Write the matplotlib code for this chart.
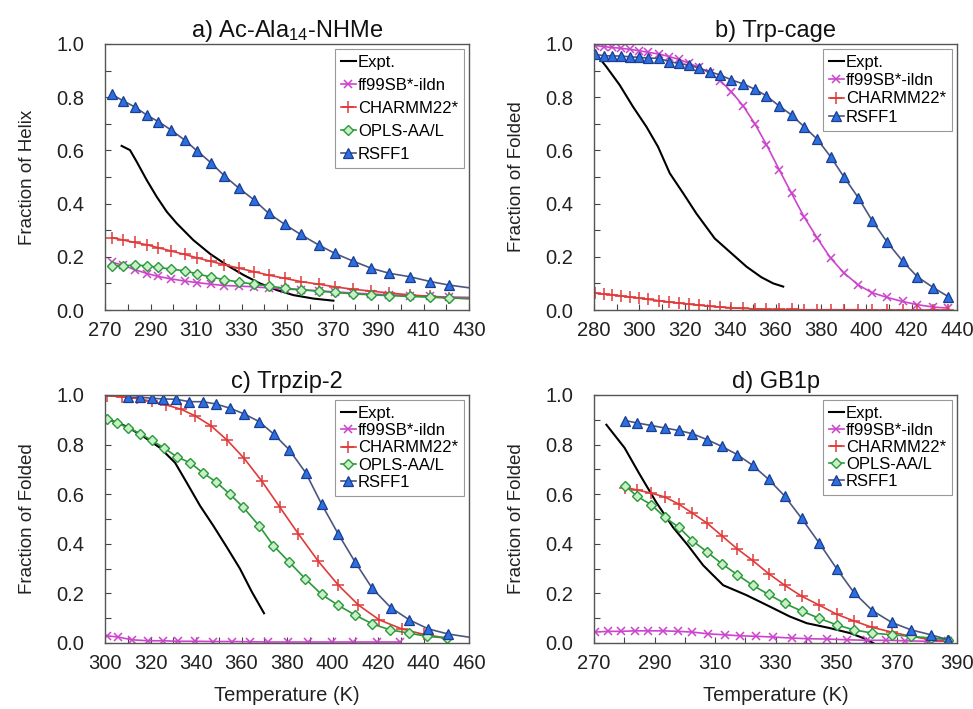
import matplotlib
matplotlib.use("Agg")
import numpy as np
import matplotlib.pyplot as plt
from matplotlib.ticker import MultipleLocator

plt.rcParams["font.family"] = ["Liberation Sans", "DejaVu Sans"]
plt.rcParams["mathtext.fontset"] = "custom"
plt.rcParams["mathtext.rm"] = "Liberation Sans"
plt.rcParams["mathtext.it"] = "Liberation Sans:italic"

# ---------------- a) Ac-Ala14-NHMe : helix fraction ----------------
temps_a = [273, 278, 283, 288.5, 293.5, 299, 305, 310.5, 316.5, 322.5, 329, 335.5,
           342, 349, 356, 364, 371, 379, 387, 395, 404, 413, 421, 433]
ff99_a = [0.180, 0.168, 0.152, 0.137, 0.126, 0.117, 0.109, 0.103, 0.097, 0.092, 0.090, 0.087,
          0.083, 0.079, 0.076, 0.072, 0.068, 0.064, 0.060, 0.057, 0.054, 0.051, 0.049, 0.047]
charmm_a = [0.272, 0.263, 0.254, 0.245, 0.234, 0.222, 0.209, 0.196, 0.183, 0.170, 0.157, 0.144,
            0.131, 0.119, 0.107, 0.097, 0.087, 0.078, 0.071, 0.064, 0.057, 0.051, 0.046, 0.041]
opls_a = [0.166, 0.166, 0.169, 0.166, 0.160, 0.154, 0.147, 0.136, 0.124, 0.114, 0.105, 0.097,
          0.090, 0.082, 0.076, 0.071, 0.066, 0.061, 0.057, 0.054, 0.051, 0.048, 0.045, 0.043]
rsff1_a = [0.811, 0.786, 0.764, 0.732, 0.708, 0.677, 0.639, 0.598, 0.554, 0.504, 0.457, 0.414,
           0.363, 0.322, 0.284, 0.244, 0.213, 0.184, 0.157, 0.138, 0.125, 0.107, 0.094, 0.080]
expt_a_t = [277.3, 281, 283.9, 288.3, 292.7, 297.1, 301.5, 308.8, 316.2, 323.5, 330.8, 338.1,
            345.5, 352.8, 361.6, 370.4]
expt_a = [0.617, 0.601, 0.558, 0.489, 0.426, 0.370, 0.326, 0.263, 0.211, 0.169, 0.132, 0.100,
          0.075, 0.056, 0.043, 0.035]

# ---------------- b) Trp-cage ----------------
temps_b = [280.6, 284.3, 288.1, 291.8, 295.7, 299.7, 303.8, 308.7, 313.1, 317.4, 321.8, 326.3,
           331, 335.7, 340.6, 345.7, 350.9, 356, 361.6, 367.1, 372.6, 378.4, 384.3, 390.1,
           396.5, 402.6, 409.3, 416, 422.5, 429.6, 436.2]
ff99_b = [0.994, 0.990, 0.987, 0.984, 0.980, 0.975, 0.969, 0.962, 0.953, 0.942, 0.928, 0.912,
          0.890, 0.862, 0.820, 0.768, 0.700, 0.622, 0.528, 0.438, 0.350, 0.270, 0.195, 0.140,
          0.094, 0.065, 0.047, 0.032, 0.020, 0.011, 0.007]
charmm_b = [0.063, 0.060, 0.057, 0.053, 0.049, 0.045, 0.040, 0.035, 0.030, 0.026, 0.022, 0.018,
            0.014, 0.011, 0.008, 0.006, 0.004, 0.003, 0.002, 0.002, 0.001, 0.001, 0.001, 0.001,
            0.001, 0.0, 0.0, 0.0, 0.0, 0.0, 0.0]
rsff1_b = [0.961, 0.956, 0.955, 0.955, 0.952, 0.950, 0.947, 0.946, 0.934, 0.927, 0.921, 0.909,
           0.896, 0.883, 0.865, 0.850, 0.830, 0.805, 0.767, 0.733, 0.689, 0.642, 0.576, 0.501,
           0.422, 0.336, 0.254, 0.184, 0.125, 0.084, 0.050]
expt_b_t = [280, 285.4, 291.3, 297.2, 303.1, 308.2, 313.4, 319.3, 325.1, 333.2, 339.8, 347.2,
            353.8, 359, 363.4]
expt_b = [0.972, 0.915, 0.846, 0.764, 0.689, 0.614, 0.514, 0.439, 0.363, 0.269, 0.219, 0.163,
          0.123, 0.100, 0.088]

# ---------------- c) Trpzip-2 ----------------
ff99_c_t = [300.7, 305.9, 311.7, 319, 325.6, 332.2, 339.6, 347.6, 355.7, 363.7, 371.8, 380.6,
            389.4, 399.6, 409.2, 419.4, 429.7]
ff99_c = [0.029, 0.024, 0.013, 0.009, 0.009, 0.007, 0.007, 0.006, 0.006, 0.005, 0.004, 0.004,
          0.004, 0.004, 0.004, 0.004, 0.004]
charmm_c_t = [300.7, 307.3, 313.9, 320.5, 326.8, 333.3, 339.6, 346.6, 353.8, 361.2, 368.9, 376.9,
              385, 393.8, 402.6, 411.4, 420.6, 430.4, 440, 450.2]
charmm_c = [0.997, 0.993, 0.986, 0.975, 0.960, 0.943, 0.916, 0.876, 0.817, 0.744, 0.653, 0.547,
            0.440, 0.329, 0.233, 0.153, 0.093, 0.057, 0.035, 0.020]
opls_c_t = [300.7, 305.1, 310.3, 315.4, 320.5, 325.9, 331.5, 337.4, 342.9, 348.6, 354.9, 360.8,
            367.7, 374, 380.9, 387.9, 395.2, 402.3, 409.9, 417.5, 425.3, 433.6, 441.4, 450.2]
opls_c = [0.904, 0.889, 0.867, 0.844, 0.817, 0.787, 0.751, 0.727, 0.687, 0.651, 0.600, 0.547,
          0.473, 0.393, 0.327, 0.260, 0.196, 0.153, 0.113, 0.077, 0.053, 0.040, 0.027, 0.020]
rsff1_c_t = [310.3, 315.4, 320.5, 325.6, 331.2, 337.1, 342.9, 348.6, 354.9, 361.1, 367.7, 374.1,
             380.9, 388.2, 395.2, 402.5, 409.9, 417.5, 425.6, 433.8, 442.1, 450.9, 464]
rsff1_c = [0.991, 0.991, 0.987, 0.984, 0.983, 0.973, 0.973, 0.964, 0.947, 0.924, 0.893, 0.843,
           0.780, 0.687, 0.560, 0.440, 0.327, 0.220, 0.143, 0.093, 0.057, 0.036, 0.018]
expt_c_t = [300.7, 309.5, 316.8, 324.2, 330.8, 335.9, 341.8, 347.6, 353.5, 359.3, 364.5, 369.9]
expt_c = [0.904, 0.873, 0.833, 0.787, 0.727, 0.647, 0.553, 0.473, 0.387, 0.300, 0.207, 0.120]

# ---------------- d) GB1p ----------------
temps_d = [280.4, 284.3, 289, 293.4, 298, 302.5, 307.4, 312.2, 317.3, 322.4, 327.7, 333,
           338.6, 344.4, 350.2, 355.9, 362, 368.4, 374.8, 381.4, 387.1]
ff99_d_t = [270.2, 274.6, 279, 283.5, 287.9, 292.8, 297.8, 302.5, 307.7, 313.2, 318.2, 323.7,
            329.2, 335.3, 340.8, 346.9, 353.5, 360.1, 366.5, 372.8, 380, 387.1]
ff99_d = [0.044, 0.047, 0.047, 0.049, 0.049, 0.049, 0.047, 0.044, 0.037, 0.033, 0.029, 0.027,
          0.024, 0.020, 0.017, 0.016, 0.013, 0.011, 0.011, 0.009, 0.007, 0.007]
charmm_d = [0.627, 0.617, 0.604, 0.589, 0.560, 0.524, 0.483, 0.433, 0.380, 0.333, 0.280, 0.233,
            0.189, 0.153, 0.116, 0.089, 0.063, 0.044, 0.027, 0.013, 0.007]
opls_d = [0.633, 0.591, 0.557, 0.507, 0.467, 0.413, 0.367, 0.320, 0.276, 0.233, 0.196, 0.160,
          0.129, 0.100, 0.073, 0.053, 0.040, 0.033, 0.027, 0.020, 0.013]
rsff1_d = [0.897, 0.887, 0.877, 0.867, 0.857, 0.844, 0.820, 0.793, 0.760, 0.717, 0.660, 0.593,
           0.503, 0.404, 0.300, 0.204, 0.131, 0.083, 0.053, 0.033, 0.013]
expt_d_t = [274.1, 280.1, 285.1, 290.6, 296.1, 301.1, 306.1, 312.7, 320.4, 328.1, 334.7, 340.3,
            348, 354.6, 359, 362.3]
expt_d = [0.880, 0.787, 0.680, 0.567, 0.467, 0.393, 0.313, 0.233, 0.193, 0.147, 0.107, 0.080,
          0.060, 0.040, 0.020, 0.000]

# ---------------- styling ----------------
STYLE = {
    "Expt.": dict(color="black", lw=1.5),
    "ff99SB*-ildn": dict(color="#cc44cc", lw=1.2, marker="x", ms=5.5, mew=1.1),
    "CHARMM22*": dict(color="#e03a3a", lw=1.2, marker="+", ms=8, mew=1.1),
    "OPLS-AA/L": dict(color="#2a9a3a", lw=1.2, marker="D", ms=4.8, mfc="#c9efc9",
                      mec="#2a9a3a", mew=1.0),
    "RSFF1": dict(color="#4c5680", lw=1.2, marker="^", ms=7, mfc="#2c6fe0",
                  mec="#1b3d8f", mew=0.9),
}

fig = plt.figure(figsize=(9.73, 7.09), dpi=100)
W, H = 973.0, 709.0


def make_axes(left, top, right, bottom):
    return fig.add_axes([left / W, 1 - bottom / H, (right - left) / W, (bottom - top) / H])


panels = [
    dict(ax=make_axes(105, 44, 469, 310), title="a) Ac-Ala$_{14}$-NHMe",
         ylabel="Fraction of Helix", xlim=(270, 430), xlabel=None, lspace=0.48,
         series=[("Expt.", expt_a_t, expt_a), ("ff99SB*-ildn", temps_a, ff99_a),
                 ("CHARMM22*", temps_a, charmm_a), ("OPLS-AA/L", temps_a, opls_a),
                 ("RSFF1", temps_a, rsff1_a)]),
    dict(ax=make_axes(594, 44, 957, 310), title="b) Trp-cage",
         ylabel="Fraction of Folded", xlim=(280, 440), xlabel=None, lspace=0.2,
         series=[("Expt.", expt_b_t, expt_b), ("ff99SB*-ildn", temps_b, ff99_b),
                 ("CHARMM22*", temps_b, charmm_b), ("RSFF1", temps_b, rsff1_b)]),
    dict(ax=make_axes(105, 395, 469, 643), title="c) Trpzip-2",
         ylabel="Fraction of Folded", xlim=(300, 460), xlabel="Temperature (K)",
         lspace=0.14,
         series=[("Expt.", expt_c_t, expt_c), ("ff99SB*-ildn", ff99_c_t, ff99_c),
                 ("CHARMM22*", charmm_c_t, charmm_c), ("OPLS-AA/L", opls_c_t, opls_c),
                 ("RSFF1", rsff1_c_t, rsff1_c)]),
    dict(ax=make_axes(594, 395, 957, 643), title="d) GB1p",
         ylabel="Fraction of Folded", xlim=(270, 390), xlabel="Temperature (K)",
         lspace=0.12,
         series=[("Expt.", expt_d_t, expt_d), ("ff99SB*-ildn", ff99_d_t, ff99_d),
                 ("CHARMM22*", temps_d, charmm_d), ("OPLS-AA/L", temps_d, opls_d),
                 ("RSFF1", temps_d, rsff1_d)]),
]

for p in panels:
    ax = p["ax"]
    for name, t, v in p["series"]:
        ax.plot(t, v, label=name, **STYLE[name])
    x0, x1 = p["xlim"]
    ax.set_xlim(x0, x1)
    ax.set_ylim(0, 1.0)
    ax.set_xticks(np.arange(x0, x1 + 1, 20))
    ax.xaxis.set_minor_locator(MultipleLocator(10))
    ax.yaxis.set_major_locator(MultipleLocator(0.2))
    ax.yaxis.set_minor_locator(MultipleLocator(0.1))
    ax.yaxis.set_major_formatter(plt.FuncFormatter(lambda y, _: f"{y:.1f}"))
    ax.tick_params(which="both", direction="in", length=4, width=0.8, color="#444444",
                   labelsize=14.5, labelcolor="#222222")
    ax.tick_params(axis="y", which="both", pad=15)
    ax.tick_params(axis="x", which="both", pad=8)
    for s in ax.spines.values():
        s.set_color("#555555")
        s.set_linewidth(1.0)
    ax.set_title(p["title"], fontsize=17, pad=5, color="#111111")
    ax.set_ylabel(p["ylabel"], fontsize=13.5, color="#222222")
    ax.yaxis.set_label_coords(-0.19, 0.5)
    if p["xlabel"]:
        ax.set_xlabel(p["xlabel"], fontsize=14.5, color="#222222")
        ax.xaxis.set_label_coords(0.5, -0.175)
    leg = ax.legend(loc="upper right", fontsize=12, frameon=True, fancybox=False,
                    framealpha=1, edgecolor="#999999", borderpad=0.35,
                    labelspacing=p["lspace"], handlelength=0.9, handletextpad=0.15,
                    borderaxespad=0.3, numpoints=1)
    leg.get_frame().set_linewidth(0.8)

fig.savefig("out.png", dpi=100)
